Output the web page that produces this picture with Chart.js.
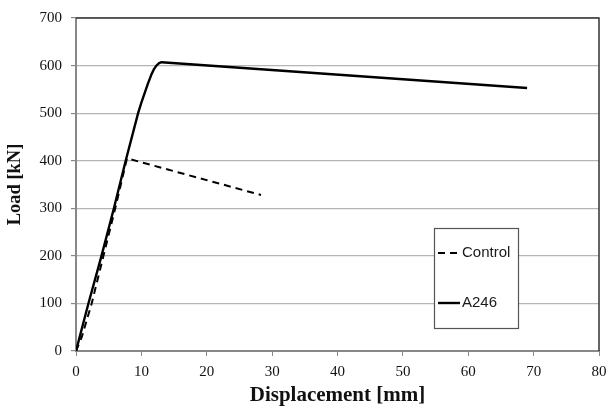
<!DOCTYPE html>
<html>
<head>
<meta charset="utf-8">
<script src="https://cdn.jsdelivr.net/npm/chart.js@4"></script>
<style>
  html, body { margin: 0; padding: 0; background: #fff; }
  #wrap { width: 608px; height: 408px; }
</style>
</head>
<body>
<div id="wrap"><canvas id="loadChart" width="608" height="408"></canvas></div>
<script>
// values
const controlX = [0, 0.9, 2.4, 4.2, 6.0, 7.8, 28.3];
const controlY = [0, 30, 100, 200, 300, 405, 328];
const a246X = [0, 1.9, 3.9, 5.8, 7.6, 9.5, 10.0, 10.5, 11.0, 11.5, 11.9, 12.3, 12.7, 13.1, 69];
const a246Y = [0, 100, 200, 300, 400, 500, 522, 542, 562, 580, 592, 600, 605, 607, 553];
const seriesNames = ['Control', 'A246'];
const xTicks = [0, 10, 20, 30, 40, 50, 60, 70, 80];
const yTicks = [0, 100, 200, 300, 400, 500, 600, 700];

function toPoints(xs, ys) {
    return xs.map((x, i) => ({ x: x, y: ys[i] }));
}

// top/right frame plus the boxed legend inside the plot
const framePlugin = {
    id: 'frameAndLegend',
    afterDraw(chart) {
        const ctx = chart.ctx;
        const a = chart.chartArea;
        ctx.save();
        ctx.strokeStyle = '#333';
        ctx.lineWidth = 1.5;
        ctx.beginPath();
        ctx.moveTo(a.left, a.top);
        ctx.lineTo(a.right, a.top);
        ctx.lineTo(a.right, a.bottom);
        ctx.stroke();

        // legend box
        const bx = 434, by = 228, bw = 84, bh = 100;
        ctx.fillStyle = '#fff';
        ctx.fillRect(bx, by, bw, bh);
        ctx.strokeStyle = '#555';
        ctx.lineWidth = 1.2;
        ctx.strokeRect(bx + 0.5, by + 0.5, bw, bh);

        const rows = [253, 303];
        chart.data.datasets.forEach((ds, i) => {
            const y = rows[i];
            ctx.strokeStyle = ds.borderColor;
            ctx.lineWidth = ds.borderWidth;
            ctx.setLineDash(ds.borderDash || []);
            ctx.beginPath();
            ctx.moveTo(438, y);
            ctx.lineTo(460, y);
            ctx.stroke();
            ctx.setLineDash([]);
            ctx.fillStyle = '#1a1a1a';
            ctx.font = '15px "Liberation Sans", Arial, sans-serif';
            ctx.textBaseline = 'middle';
            ctx.textAlign = 'left';
            ctx.fillText(ds.label, 462, y);
        });
        ctx.restore();
    }
};

document.addEventListener('DOMContentLoaded', function () {
    const ctx = document.getElementById('loadChart').getContext('2d');

    const loadChart = new Chart(ctx, {
        type: 'scatter',
        data: {
            datasets: [{
                label: seriesNames[0],
                data: toPoints(controlX, controlY),
                showLine: true,
                borderColor: '#000',
                borderWidth: 2,
                borderDash: [7, 5],
                pointRadius: 0,
                fill: false
            }, {
                label: seriesNames[1],
                data: toPoints(a246X, a246Y),
                showLine: true,
                borderColor: '#000',
                borderWidth: 2.4,
                borderJoinStyle: 'round',
                pointRadius: 0,
                fill: false
            }]
        },
        options: {
            responsive: false,
            animation: false,
            layout: { padding: { left: 0, right: 0, top: 15, bottom: 0 } },
            plugins: {
                legend: { display: false },
                tooltip: { enabled: false }
            },
            scales: {
                x: {
                    type: 'linear',
                    min: 0,
                    max: 80,
                    afterBuildTicks: (scale) => { scale.ticks = xTicks.map(v => ({ value: v })); },
                    afterFit: (scale) => {
                        scale.height = 57;
                        scale.paddingRight = 9;
                        scale.paddingLeft = 0;
                    },
                    border: { color: '#888', width: 2 },
                    grid: { drawOnChartArea: false, tickLength: 5, tickColor: '#888', lineWidth: 1 },
                    ticks: {
                        padding: 7,
                        color: '#111',
                        font: { family: '"Liberation Serif", "Times New Roman", serif', size: 15 }
                    },
                    title: {
                        display: true,
                        text: 'Displacement [mm]',
                        color: '#111',
                        padding: { top: 0, bottom: 0 },
                        font: { family: '"Liberation Serif", "Times New Roman", serif', size: 21, weight: 'bold' }
                    }
                },
                y: {
                    min: 0,
                    max: 700,
                    afterBuildTicks: (scale) => { scale.ticks = yTicks.map(v => ({ value: v })); },
                    afterFit: (scale) => { scale.width = 76; },
                    border: { color: '#888', width: 2 },
                    grid: { color: '#b5b5b5', lineWidth: 1.2, tickLength: 5, tickColor: '#888' },
                    ticks: {
                        padding: 9,
                        color: '#111',
                        font: { family: '"Liberation Serif", "Times New Roman", serif', size: 15 }
                    },
                    title: {
                        display: true,
                        text: 'Load [kN]',
                        color: '#111',
                        padding: { top: 4, bottom: 4 },
                        font: { family: '"Liberation Serif", "Times New Roman", serif', size: 18.5, weight: 'bold' }
                    }
                }
            }
        },
        plugins: [framePlugin]
    });
});
</script>
</body>
</html>
